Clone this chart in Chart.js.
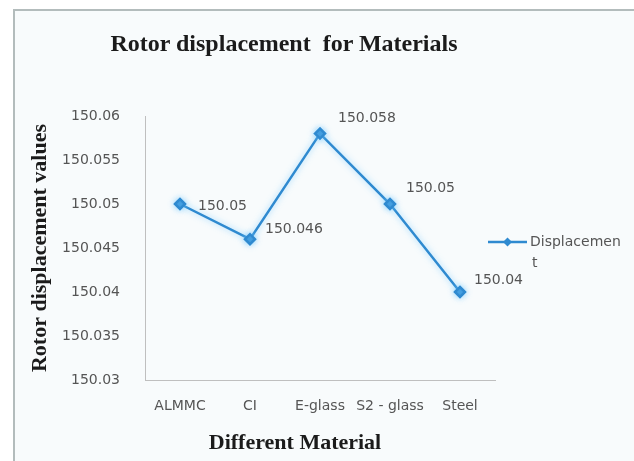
<!DOCTYPE html>
<html>
<head>
<meta charset="utf-8">
<script src="https://cdn.jsdelivr.net/npm/chart.js@4/dist/chart.umd.min.js"></script>
<style>
  body { margin: 0; background: #fff; overflow: hidden; }
  #frame {
    position: absolute; left: 13px; top: 9px;
    width: 621px; height: 452px; box-sizing: border-box;
    border-top: 2px solid #b3bcbc; border-left: 2px solid #b3bcbc;
    background: #f8fbfc;
  }
  #wrap { position: relative; width: 619px; height: 450px; }
  .heading {
    position: absolute; z-index: 2; text-align: center;
    font-family: "Liberation Serif", serif; font-weight: bold;
    color: #1b1b1b; white-space: pre;
  }
  #title { left: 0; top: 30px; width: 568px; font-size: 24px; line-height: 26px; }
  #xtitle { left: 195px; top: 430px; width: 200px; font-size: 22px; line-height: 24px; }
</style>
</head>
<body>
<div id="frame"><div id="wrap"><canvas id="chart"></canvas></div></div>
<div class="heading" id="title">Rotor displacement  for Materials</div>
<div class="heading" id="xtitle">Different Material</div>
<script>
// materials and measured displacement
const materials = ["ALMMC", "CI", "E-glass", "S2 - glass", "Steel"];
const displacement = [150.05, 150.046, 150.058, 150.05, 150.04];
const yTicks = { min: 150.03, max: 150.06, step: 0.005 };

const grey = "#555555";
const blue = "#2f8ad0";

// offsets for the value labels next to each point
const labelOffsets = [[18, 2], [15, -10], [18, -15], [16, -16], [14, -12]];

const valueLabels = {
  id: "valueLabels",
  afterDatasetsDraw(chart) {
    const ctx = chart.ctx;
    const meta = chart.getDatasetMeta(0);
    ctx.save();
    ctx.font = "14px 'DejaVu Sans'";
    ctx.fillStyle = grey;
    ctx.textAlign = "left";
    ctx.textBaseline = "middle";
    meta.data.forEach((pt, i) => {
      const [dx, dy] = labelOffsets[i];
      ctx.fillText(String(displacement[i]), pt.x + dx, pt.y + dy);
    });
    ctx.restore();
  }
};

// soft glow behind the line
const glow = {
  id: "glow",
  beforeDatasetDraw(chart) {
    chart.ctx.save();
    chart.ctx.shadowColor = "rgba(110,200,255,0.7)";
    chart.ctx.shadowBlur = 6;
  },
  afterDatasetDraw(chart) {
    chart.ctx.restore();
  }
};

// legend on the right, text wraps like the original
const sideLegend = {
  id: "sideLegend",
  afterDraw(chart) {
    const ctx = chart.ctx;
    const y = 231;
    ctx.save();
    ctx.strokeStyle = blue;
    ctx.lineWidth = 2.5;
    ctx.beginPath();
    ctx.moveTo(473, y);
    ctx.lineTo(512, y);
    ctx.stroke();
    ctx.fillStyle = blue;
    ctx.beginPath();
    ctx.moveTo(492.5, y - 4.5);
    ctx.lineTo(497, y);
    ctx.lineTo(492.5, y + 4.5);
    ctx.lineTo(488, y);
    ctx.closePath();
    ctx.fill();
    ctx.font = "14px 'DejaVu Sans'";
    ctx.fillStyle = grey;
    ctx.textBaseline = "middle";
    ctx.fillText("Displacemen", 515, y);
    ctx.fillText("t", 517, y + 21);
    ctx.restore();
  }
};

new Chart(document.getElementById("chart"), {
  type: "line",
  data: {
    labels: materials,
    datasets: [{
      label: "Displacement",
      data: displacement,
      borderColor: blue,
      borderWidth: 2.5,
      backgroundColor: blue,
      pointStyle: "rectRot",
      pointRadius: 5,
      pointHoverRadius: 5,
      tension: 0
    }]
  },
  options: {
    responsive: true,
    maintainAspectRatio: false,
    animation: false,
    layout: { padding: { top: 105, right: 139, bottom: 0, left: 0 } },
    plugins: {
      legend: { display: false },
      title: { display: false },
      tooltip: { enabled: false }
    },
    scales: {
      x: {
        offset: true,
        grid: { display: false },
        border: { display: true, color: "#bfbfbf", width: 1 },
        ticks: {
          color: grey, font: { family: "DejaVu Sans", size: 14 },
          padding: 10, maxRotation: 0, autoSkip: false
        },
        afterFit(scale) { scale.height = 81; }
      },
      y: {
        min: yTicks.min,
        max: yTicks.max,
        grid: { display: false },
        border: { display: true, color: "#bfbfbf", width: 1 },
        ticks: {
          stepSize: yTicks.step,
          color: grey,
          font: { family: "DejaVu Sans", size: 14 },
          padding: 17,
          callback: v => String(+v.toFixed(3))
        },
        title: {
          display: true, text: "Rotor displacement values", color: "#1b1b1b",
          font: { family: "Liberation Serif", size: 22, weight: "bold" },
          padding: { top: 12, bottom: 0 }
        },
        afterFit(scale) { scale.width = 130; }
      }
    }
  },
  plugins: [glow, valueLabels, sideLegend]
});
</script>
</body>
</html>
